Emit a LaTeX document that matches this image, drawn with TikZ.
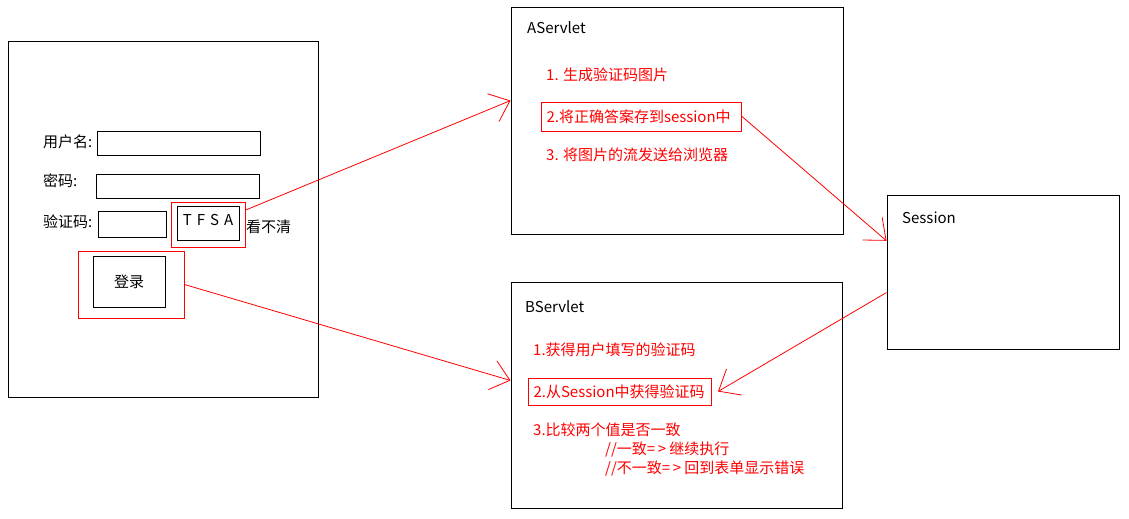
\documentclass[tikz,border=0pt]{standalone}
\usepackage{fontspec}
\setmainfont{Noto Sans CJK SC}
\usetikzlibrary{arrows.meta}
\tikzset{
    >={Straight Barb[length=18pt,width=30pt]},
    boxframe/.style={
        rectangle,
        draw=black, line width=1pt,
        inner sep=0pt
    },
    redframe/.style={
        rectangle,
        draw=red, line width=1pt,
        inner sep=0pt
    },
    itemtext/.style={anchor=west, text=red, inner sep=0pt},
    reditem/.style={
        rectangle,
        draw=red, line width=1pt,
        text=red,
        anchor=west,
        inner xsep=5pt, inner ysep=0pt,
        align=left
    },
    plaintext/.style={anchor=west, inner sep=0pt},
    redline/.style={draw=red, line width=0.8pt, ->},
    font={\fontsize{15}{18}\selectfont},
}
\begin{document}
\begin{tikzpicture}[x=1pt,y=-1pt]
\useasboundingbox (0,0) rectangle (1129,519);
% login form
\node[boxframe, minimum width=310pt, minimum height=355pt] (form) at (163,219.5) {};
\node[plaintext] (userlbl) at (43,142) {用户名:};
\node[boxframe, minimum width=163pt, minimum height=24pt] (userfield) at (178.5,143) {};
\node[plaintext] (pwdlbl) at (43,181) {密码:};
\node[boxframe, minimum width=163pt, minimum height=24pt] (pwdfield) at (177.5,186) {};
\node[plaintext] (codelbl) at (43,222) {验证码:};
\node[boxframe, minimum width=68pt, minimum height=26pt] (codefield) at (132,224) {};
\node[boxframe, minimum width=62pt, minimum height=34pt, text depth=7pt] (captcha) at (208,223) {T\,\,F\,\,S\,\,A};
\node[redframe, minimum width=74pt, minimum height=45pt] (capred) at (208,224.5) {};
\node[plaintext] (unclear) at (246,227) {看不清};
\node[boxframe, minimum width=72pt, minimum height=51pt] (login) at (129,281.5) {登录};
\node[redframe, minimum width=106pt, minimum height=67pt] (loginred) at (131,284.5) {};
% AServlet
\node[boxframe, minimum width=332pt, minimum height=226pt] (aservlet) at (677,121) {};
\node[plaintext] (atitle) at (527,28) {AServlet};
\node[itemtext] (astep1) at (546,75) {1. 生成验证码图片};
\node[reditem, text width=190pt, minimum height=29pt] (astep2) at (541,116.5) {2.将正确答案存到session中};
\node[itemtext] (astep3) at (546,155) {3. 将图片的流发送给浏览器};
% Session
\node[boxframe, minimum width=232pt, minimum height=154pt] (session) at (1003,272) {};
\node[plaintext] (stitle) at (902,218) {Session};
% BServlet
\node[boxframe, minimum width=331pt, minimum height=226pt] (bservlet) at (676.5,395) {};
\node[plaintext] (btitle) at (525,307) {BServlet};
\node[itemtext] (bstep1) at (533,350) {1.获得用户填写的验证码};
\node[reditem, text width=173pt, minimum height=27pt] (bstep2) at (528,391.5) {2.从Session中获得验证码};
\node[itemtext] (bstep3) at (533,430) {3.比较两个值是否一致};
\node[itemtext] (bok) at (605,450) {//一致=\,> 继续执行};
\node[itemtext] (bfail) at (605,469) {//不一致=\,> 回到表单显示错误};
% connectors
\draw[redline] (capred.21) -- (aservlet.173);
\draw[redline] (loginred.east) -- (bservlet.175);
\draw[redline] (astep2.east) -- (session.165);
\draw[redline] (session.190) -- ([xshift=6pt]bstep2.east);
\end{tikzpicture}
\end{document}
